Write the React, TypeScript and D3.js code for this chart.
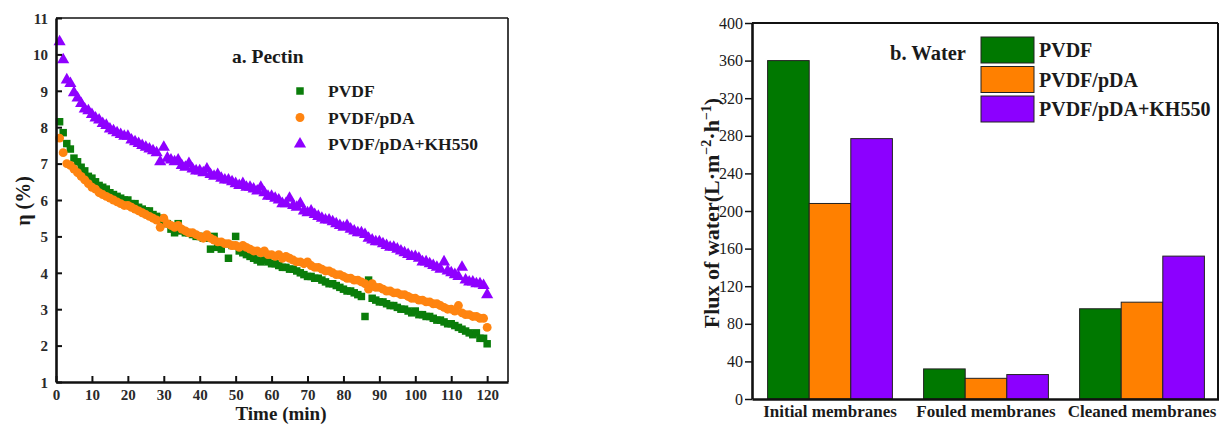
import React, { useEffect, useRef } from "react";
import * as d3 from "d3";

const times: number[] = Array.from({ length: 120 }, (_, i) => i + 1);

const pvdf: number[] = [
  8.15, 7.85, 7.55, 7.4, 7.15, 7.05, 6.9, 6.8, 6.65, 6.6,
  6.5, 6.4, 6.35, 6.3, 6.2, 6.15, 6.1, 6.05, 6.0, 6.0,
  5.9, 5.9, 5.8, 5.75, 5.7, 5.7, 5.6, 5.55, 5.5, 5.4,
  5.35, 5.2, 5.1, 5.35, 5.15, 5.1, 5.1, 5.05, 5.0, 5.0,
  4.95, 4.95, 4.65, 5.0, 4.7, 4.65, 4.8, 4.4, 4.75, 5.0,
  4.6, 4.55, 4.5, 4.45, 4.4, 4.35, 4.3, 4.35, 4.3, 4.25,
  4.25, 4.2, 4.15, 4.15, 4.1, 4.1, 4.05, 4.0, 3.95, 3.9,
  3.9, 3.85, 3.85, 3.8, 3.75, 3.7, 3.7, 3.65, 3.6, 3.55,
  3.5, 3.5, 3.45, 3.4, 3.35, 2.8, 3.8, 3.3, 3.25, 3.2,
  3.2, 3.15, 3.1, 3.1, 3.05, 3.0, 3.0, 2.95, 2.9, 2.95,
  2.85, 2.85, 2.8, 2.8, 2.75, 2.7, 2.7, 2.65, 2.6, 2.6,
  2.55, 2.5, 2.45, 2.4, 2.35, 2.3, 2.35, 2.2, 2.2, 2.05,
];

const pvdfPda: number[] = [
  7.7, 7.3, 7.0, 6.95, 6.85, 6.75, 6.65, 6.55, 6.45, 6.35,
  6.3, 6.2, 6.15, 6.1, 6.05, 6.0, 5.95, 5.9, 5.85, 5.85,
  5.8, 5.75, 5.7, 5.65, 5.6, 5.55, 5.5, 5.45, 5.25, 5.5,
  5.35, 5.3, 5.25, 5.3, 5.2, 5.15, 5.1, 5.1, 5.05, 5.0,
  4.95, 5.05, 4.95, 4.9, 4.85, 4.85, 4.8, 4.8, 4.75, 4.75,
  4.7, 4.75, 4.7, 4.65, 4.6, 4.6, 4.55, 4.6, 4.5, 4.5,
  4.45, 4.5, 4.4, 4.45, 4.4, 4.35, 4.3, 4.3, 4.25, 4.3,
  4.2, 4.15, 4.15, 4.1, 4.05, 4.05, 4.0, 3.95, 3.95, 3.9,
  3.85, 3.85, 3.8, 3.8, 3.75, 3.7, 3.55, 3.7, 3.6, 3.6,
  3.55, 3.5, 3.5, 3.45, 3.45, 3.4, 3.4, 3.35, 3.3, 3.3,
  3.25, 3.25, 3.2, 3.2, 3.15, 3.15, 3.1, 3.05, 3.0, 3.0,
  2.95, 3.1, 2.9, 2.85, 2.85, 2.8, 2.8, 2.75, 2.75, 2.5,
];

const pvdfKh: number[] = [
  10.35, 9.85, 9.3, 9.2, 8.95, 8.8, 8.65, 8.5, 8.45, 8.35,
  8.25, 8.2, 8.1, 8.05, 7.95, 7.9, 7.85, 7.8, 7.75, 7.75,
  7.65, 7.6, 7.55, 7.5, 7.45, 7.4, 7.35, 7.3, 7.05, 7.45,
  7.15, 7.1, 7.05, 7.1, 6.95, 6.9, 7.0, 6.85, 6.8, 6.8,
  6.75, 6.85, 6.7, 6.65, 6.7, 6.6, 6.55, 6.55, 6.5, 6.45,
  6.4, 6.45, 6.35, 6.35, 6.3, 6.25, 6.35, 6.2, 6.1, 6.1,
  6.05, 6.0, 5.9, 5.9, 6.05, 5.85, 5.8, 5.9, 5.7, 5.65,
  5.7, 5.6, 5.55, 5.5, 5.45, 5.45, 5.4, 5.35, 5.3, 5.25,
  5.3, 5.2, 5.15, 5.1, 5.1, 5.05, 4.95, 4.9, 4.85, 4.85,
  4.8, 4.75, 4.7, 4.7, 4.65, 4.6, 4.55, 4.5, 4.45, 4.45,
  4.4, 4.3, 4.3, 4.25, 4.2, 4.15, 4.1, 4.3, 4.05, 4.0,
  3.95, 3.9, 4.15, 3.8, 3.75, 3.75, 3.7, 3.7, 3.65, 3.4,
];

const seriesNames: string[] = ["PVDF", "PVDF/pDA", "PVDF/pDA+KH550"];
const xTicksA: number[] = [0, 10, 20, 30, 40, 50, 60, 70, 80, 90, 100, 110, 120];
const yTicksA: number[] = [1, 2, 3, 4, 5, 6, 7, 8, 9, 10, 11];

const categories: string[] = ["Initial membranes", "Fouled membranes", "Cleaned membranes"];
const fluxPvdf: number[] = [360, 32, 96];
const fluxPda: number[] = [208, 22, 103];
const fluxKh: number[] = [277, 26, 152];
const yTicksB: number[] = [0, 40, 80, 120, 160, 200, 240, 280, 320, 360, 400];

const GREEN = "#0a7d0a";
const ORANGE = "#ff8410";
const PURPLE = "#8f00ff";
const BAR_GREEN = "#007800";
const BAR_ORANGE = "#ff8000";
const BAR_PURPLE = "#8c00ff";
const FONT = "'Liberation Serif', 'DejaVu Serif', serif";
const TEXT = "#1a1a1a";
const TICK_TEXT = "#2a2a2a";

export default function App() {
  const ref = useRef<SVGSVGElement>(null);

  useEffect(() => {
    document.body.style.margin = "0";
    const svg = d3.select(ref.current);
    svg.selectAll("*").remove();
    svg.style("font-family", FONT);

    // ---------- Chart a ----------
    const L = { x0: 56, x1: 508, y0: 18, y1: 382 };
    const x = d3.scaleLinear().domain([0, 125.8]).range([L.x0, L.x1]);
    const y = d3.scaleLinear().domain([1, 11]).range([L.y1, L.y0]);
    const ga = svg.append("g");

    ga.append("line").attr("x1", L.x0).attr("x2", L.x1).attr("y1", L.y0).attr("y2", L.y0)
      .attr("stroke", "#111").attr("stroke-width", 1.6);
    ga.append("line").attr("x1", L.x1).attr("x2", L.x1).attr("y1", L.y0).attr("y2", L.y1)
      .attr("stroke", "#111").attr("stroke-width", 1.6);

    const sets = [
      { data: pvdf, color: GREEN, sym: d3.symbolSquare, size: 56 },
      { data: pvdfPda, color: ORANGE, sym: d3.symbolCircle, size: 62 },
      { data: pvdfKh, color: PURPLE, sym: d3.symbolTriangle, size: 64 },
    ];
    sets.forEach((s) => {
      const sym = d3.symbol().type(s.sym).size(s.size);
      ga.append("g").selectAll("path").data(s.data).join("path")
        .attr("d", sym as any)
        .attr("transform", (d, i) => `translate(${x(times[i])},${y(d)})`)
        .attr("fill", s.color);
    });

    const xa = ga.append("g").attr("transform", `translate(0,${L.y1})`)
      .call(d3.axisBottom(x).tickValues(xTicksA).tickSizeInner(-6).tickSizeOuter(0).tickPadding(7));
    const ya = ga.append("g").attr("transform", `translate(${L.x0},0)`)
      .call(d3.axisLeft(y).tickValues(yTicksA).tickSizeInner(-6).tickSizeOuter(0).tickPadding(8));
    [xa, ya].forEach((a) => {
      a.select(".domain").attr("stroke", "#111").attr("stroke-width", 2.6);
      a.selectAll(".tick line").attr("stroke", "#111").attr("stroke-width", 2);
      a.selectAll(".tick text").attr("fill", TICK_TEXT).attr("font-size", 15).attr("font-weight", "bold")
        .attr("font-family", FONT);
    });
    ya.selectAll(".tick text").attr("dy", "0.35em");

    ga.append("text").attr("x", 281).attr("y", 420).attr("text-anchor", "middle")
      .attr("font-size", 19).attr("font-weight", "bold").attr("fill", TEXT).text("Time (min)");
    ga.append("text").attr("transform", `translate(23,201) rotate(-90)`)
      .attr("text-anchor", "middle").attr("dy", "0.35em").attr("font-size", 20).attr("font-weight", "bold")
      .attr("fill", TEXT).text("η (%)");
    ga.append("text").attr("x", 232).attr("y", 63).attr("font-size", 19.5).attr("font-weight", "bold")
      .attr("fill", TEXT).text("a. Pectin");

    const legA = ga.append("g");
    sets.forEach((s, i) => {
      const yy = 91 + i * 26.5;
      legA.append("path").attr("d", d3.symbol().type(s.sym).size(s.size)() as string)
        .attr("transform", `translate(300,${yy})`).attr("fill", s.color);
      legA.append("text").attr("x", 328).attr("y", yy).attr("dy", "0.35em").attr("font-size", 17.5)
        .attr("font-weight", "bold").attr("fill", TEXT).text(seriesNames[i]);
    });

    // ---------- Chart b ----------
    const R = { x0: 752, x1: 1218, y0: 23, y1: 399 };
    const xb = d3.scaleBand().domain(categories).range([R.x0, R.x1 + 2]).paddingInner(0.2).paddingOuter(0.1);
    const xs = d3.scaleBand().domain(seriesNames).range([0, xb.bandwidth()]);
    const yb = d3.scaleLinear().domain([0, 400]).range([R.y1, R.y0]);
    const gb = svg.append("g");

    gb.append("line").attr("x1", R.x0).attr("x2", R.x1).attr("y1", R.y0).attr("y2", R.y0)
      .attr("stroke", "#111").attr("stroke-width", 2);
    gb.append("line").attr("x1", R.x1).attr("x2", R.x1).attr("y1", R.y0).attr("y2", R.y1)
      .attr("stroke", "#111").attr("stroke-width", 2);

    const barSets = [
      { data: fluxPvdf, color: BAR_GREEN },
      { data: fluxPda, color: BAR_ORANGE },
      { data: fluxKh, color: BAR_PURPLE },
    ];
    barSets.forEach((s, si) => {
      gb.append("g").selectAll("rect").data(s.data).join("rect")
        .attr("x", (d, i) => (xb(categories[i]) as number) + (xs(seriesNames[si]) as number))
        .attr("y", (d) => yb(d))
        .attr("width", xs.bandwidth())
        .attr("height", (d) => yb(0) - yb(d))
        .attr("fill", s.color).attr("stroke", "#222").attr("stroke-width", 1);
    });

    const yba = gb.append("g").attr("transform", `translate(${R.x0},0)`)
      .call(d3.axisLeft(yb).tickValues(yTicksB).tickSizeInner(7).tickSizeOuter(0).tickPadding(2));
    yba.select(".domain").attr("stroke", "#111").attr("stroke-width", 2.6);
    yba.selectAll(".tick line").attr("stroke", "#111").attr("stroke-width", 1.5);
    yba.selectAll(".tick text").attr("fill", TEXT).attr("font-size", 16).attr("font-family", FONT);

    const xba = gb.append("g").attr("transform", `translate(0,${R.y1})`)
      .call(d3.axisBottom(xb).tickSize(0).tickPadding(6));
    xba.select(".domain").attr("stroke", "#111").attr("stroke-width", 2.6);
    xba.selectAll(".tick text").attr("fill", TEXT).attr("font-size", 17).attr("font-weight", "bold")
      .attr("font-family", FONT);

    const yl = gb.append("text").attr("transform", `translate(711,${(R.y0 + R.y1) / 2 + 2}) rotate(-90)`)
      .attr("text-anchor", "middle").attr("dy", "0.35em").attr("font-size", 22).attr("font-weight", "bold")
      .attr("fill", TEXT);
    yl.append("tspan").text("Flux of water(L·m");
    yl.append("tspan").attr("dy", -8).attr("font-size", 14).text("−2");
    yl.append("tspan").attr("dy", 8).text("·h");
    yl.append("tspan").attr("dy", -8).attr("font-size", 14).text("−1");
    yl.append("tspan").attr("dy", 8).text(")");

    gb.append("text").attr("x", 890).attr("y", 60).attr("font-size", 20.5).attr("font-weight", "bold")
      .attr("fill", TEXT).text("b. Water");

    barSets.forEach((s, i) => {
      const top = 37 + i * 29.5;
      gb.append("rect").attr("x", 981).attr("y", top).attr("width", 53).attr("height", 26)
        .attr("fill", s.color).attr("stroke", "#222").attr("stroke-width", 1);
      gb.append("text").attr("x", 1039).attr("y", top + 13).attr("dy", "0.35em").attr("font-size", 20)
        .attr("font-weight", "bold").attr("fill", TEXT).text(seriesNames[i]);
    });
  }, []);

  return <svg ref={ref} width={1219} height={425} style={{ display: "block", background: "#fff" }} />;
}
